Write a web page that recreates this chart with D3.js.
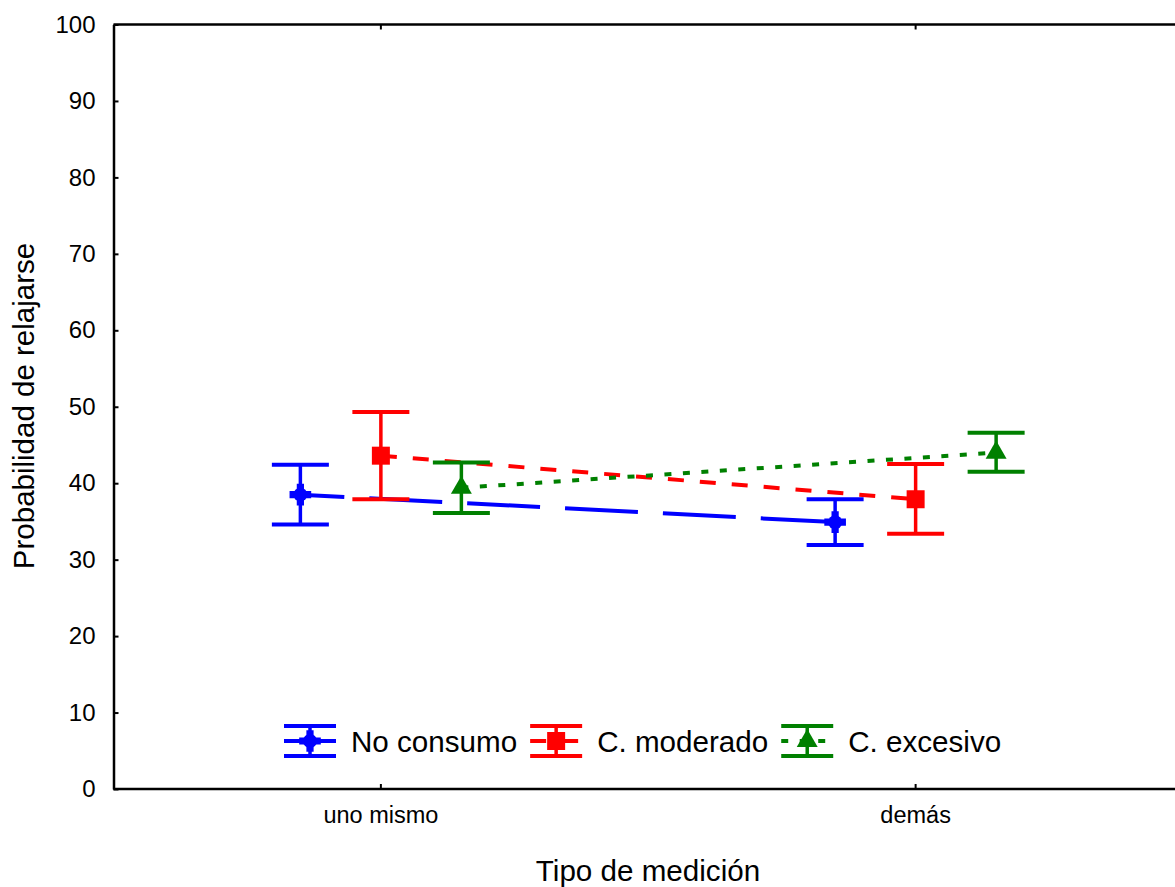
<!DOCTYPE html>
<html>
<head>
<meta charset="utf-8">
<script src="https://cdn.jsdelivr.net/npm/d3@7"></script>
<style>
  html, body { margin: 0; padding: 0; background: #fff; }
  svg { display: block; font-family: "Liberation Sans", Arial, Helvetica, sans-serif; }
</style>
</head>
<body>
<svg id="chart" width="1175" height="887"></svg>
<script>
// ---- data ----
const categories = ["uno mismo", "demás"];
const seriesNames = ["No consumo", "C. moderado", "C. excesivo"];
const meanNoConsumo = [38.5, 34.9];
const meanModerado  = [43.6, 37.9];
const meanExcesivo  = [39.4, 44.0];
const lowNoConsumo  = [34.6, 31.9];
const lowModerado   = [37.9, 33.4];
const lowExcesivo   = [36.1, 41.5];
const highNoConsumo = [42.4, 37.9];
const highModerado  = [49.3, 42.5];
const highExcesivo  = [42.7, 46.6];
const yTicks = [0, 10, 20, 30, 40, 50, 60, 70, 80, 90, 100];
const xTitle = "Tipo de medición";
const yTitle = "Probabilidad de relajarse";

// ---- styles ----
const colors = ["#0000ff", "#ff0000", "#008000"];
const dashes = ["73,25", "16,16", "7,11.5"];
const dashOffsets = [29, 0, 0];
const symbols = [d3.symbolCross, d3.symbolSquare, d3.symbolTriangle];
const symbolSizes = [260, 324, 190];

const series = seriesNames.map((name, i) => ({
  name,
  mean: [meanNoConsumo, meanModerado, meanExcesivo][i],
  low: [lowNoConsumo, lowModerado, lowExcesivo][i],
  high: [highNoConsumo, highModerado, highExcesivo][i],
  color: colors[i], dash: dashes[i], dashOffset: dashOffsets[i],
  symbol: symbols[i], symbolSize: symbolSizes[i]
}));

const svg = d3.select("#chart");
const plotLeft = 113.5, plotRight = 1183, plotTop = 24.5, plotBottom = 789;

const x = d3.scaleBand().domain(categories).range([plotLeft, plotRight]).padding(0);
const xOff = d3.scalePoint().domain(seriesNames).range([-80.5, 80.5]);
const y = d3.scaleLinear().domain([0, 100]).range([plotBottom, plotTop]);
const cx = (cat, s) => x(cat) + x.bandwidth() / 2 + xOff(s);

// frame
const axisColor = "#000";
svg.append("line").attr("x1", plotLeft).attr("x2", 1175).attr("y1", plotTop).attr("y2", plotTop)
  .attr("stroke", axisColor).attr("stroke-width", 2.5);
svg.append("line").attr("x1", plotLeft).attr("x2", 1175).attr("y1", plotBottom).attr("y2", plotBottom)
  .attr("stroke", axisColor).attr("stroke-width", 2.5);

// y axis
const yAxis = d3.axisLeft(y).tickValues(yTicks).tickSizeInner(-5).tickSizeOuter(0).tickPadding(18);
const gy = svg.append("g").attr("transform", `translate(${plotLeft},0)`).call(yAxis);
gy.select(".domain").attr("stroke", axisColor).attr("stroke-width", 2.5);
gy.selectAll(".tick line").attr("stroke", axisColor).attr("stroke-width", 2);
gy.selectAll(".tick text").attr("font-size", 24).attr("fill", "#000")
  .attr("font-family", "'Liberation Sans', Arial, sans-serif");

// x axis (bottom, ticks inward)
const xAxis = d3.axisBottom(x).tickSizeInner(-5).tickSizeOuter(0).tickPadding(17);
const gx = svg.append("g").attr("transform", `translate(0,${plotBottom})`).call(xAxis);
gx.select(".domain").remove();
gx.selectAll(".tick line").attr("stroke", axisColor).attr("stroke-width", 2);
gx.selectAll(".tick text").attr("font-size", 23.5).attr("fill", "#000")
  .attr("font-family", "'Liberation Sans', Arial, sans-serif");

// top ticks
const xTop = d3.axisTop(x).tickSizeInner(-5).tickSizeOuter(0).tickFormat("");
const gxt = svg.append("g").attr("transform", `translate(0,${plotTop})`).call(xTop);
gxt.select(".domain").remove();
gxt.selectAll(".tick line").attr("stroke", axisColor).attr("stroke-width", 2);

// titles
svg.append("text").attr("x", 648).attr("y", 881).attr("text-anchor", "middle")
  .attr("font-size", 29.6).text(xTitle);
svg.append("text").attr("transform", "translate(34,406) rotate(-90)").attr("text-anchor", "middle")
  .attr("font-size", 29.5).text(yTitle);

// lines
const line = d3.line().x(d => d.x).y(d => d.y);
series.forEach(s => {
  const pts = categories.map((c, j) => ({ x: cx(c, s.name), y: y(s.mean[j]) }));
  svg.append("path").attr("d", line(pts)).attr("fill", "none")
    .attr("stroke", s.color).attr("stroke-width", 4)
    .attr("stroke-dasharray", s.dash).attr("stroke-dashoffset", s.dashOffset);
});

// error bars + markers
const capHalf = 28.5;
series.forEach(s => {
  categories.forEach((c, j) => {
    const px = cx(c, s.name);
    const g = svg.append("g");
    g.append("line").attr("x1", px).attr("x2", px).attr("y1", y(s.low[j])).attr("y2", y(s.high[j]))
      .attr("stroke", s.color).attr("stroke-width", 3.5);
    [s.low[j], s.high[j]].forEach(v => {
      g.append("line").attr("x1", px - capHalf).attr("x2", px + capHalf).attr("y1", y(v)).attr("y2", y(v))
        .attr("stroke", s.color).attr("stroke-width", 4);
    });
    g.append("path").attr("d", d3.symbol(s.symbol, s.symbolSize)())
      .attr("transform", `translate(${px},${y(s.mean[j])})`).attr("fill", s.color);
    if (s.symbol === d3.symbolCross) {
      g.append("circle").attr("cx", px).attr("cy", y(s.mean[j])).attr("r", 7).attr("fill", s.color);
    }
  });
});

// legend
const legY = 741;
let lx = 310;
series.forEach(s => {
  const g = svg.append("g").attr("transform", `translate(${lx},${legY})`);
  const half = 26;
  g.append("line").attr("x1", -half).attr("x2", half).attr("y1", 0).attr("y2", 0)
    .attr("stroke", s.color).attr("stroke-width", 4).attr("stroke-dasharray", s.dash);
  g.append("line").attr("x1", 0).attr("x2", 0).attr("y1", -15).attr("y2", 15)
    .attr("stroke", s.color).attr("stroke-width", 3.5);
  [-15, 15].forEach(dy => g.append("line").attr("x1", -half).attr("x2", half).attr("y1", dy).attr("y2", dy)
    .attr("stroke", s.color).attr("stroke-width", 4));
  g.append("path").attr("d", d3.symbol(s.symbol, s.symbolSize)()).attr("fill", s.color);
  if (s.symbol === d3.symbolCross) g.append("circle").attr("r", 7).attr("fill", s.color);
  const t = g.append("text").attr("x", 41).attr("y", 10.5).attr("font-size", 29.6).text(s.name);
  const w = t.node().getComputedTextLength();
  lx = lx + 41 + w + 13 + half;
});
</script>
</body>
</html>
